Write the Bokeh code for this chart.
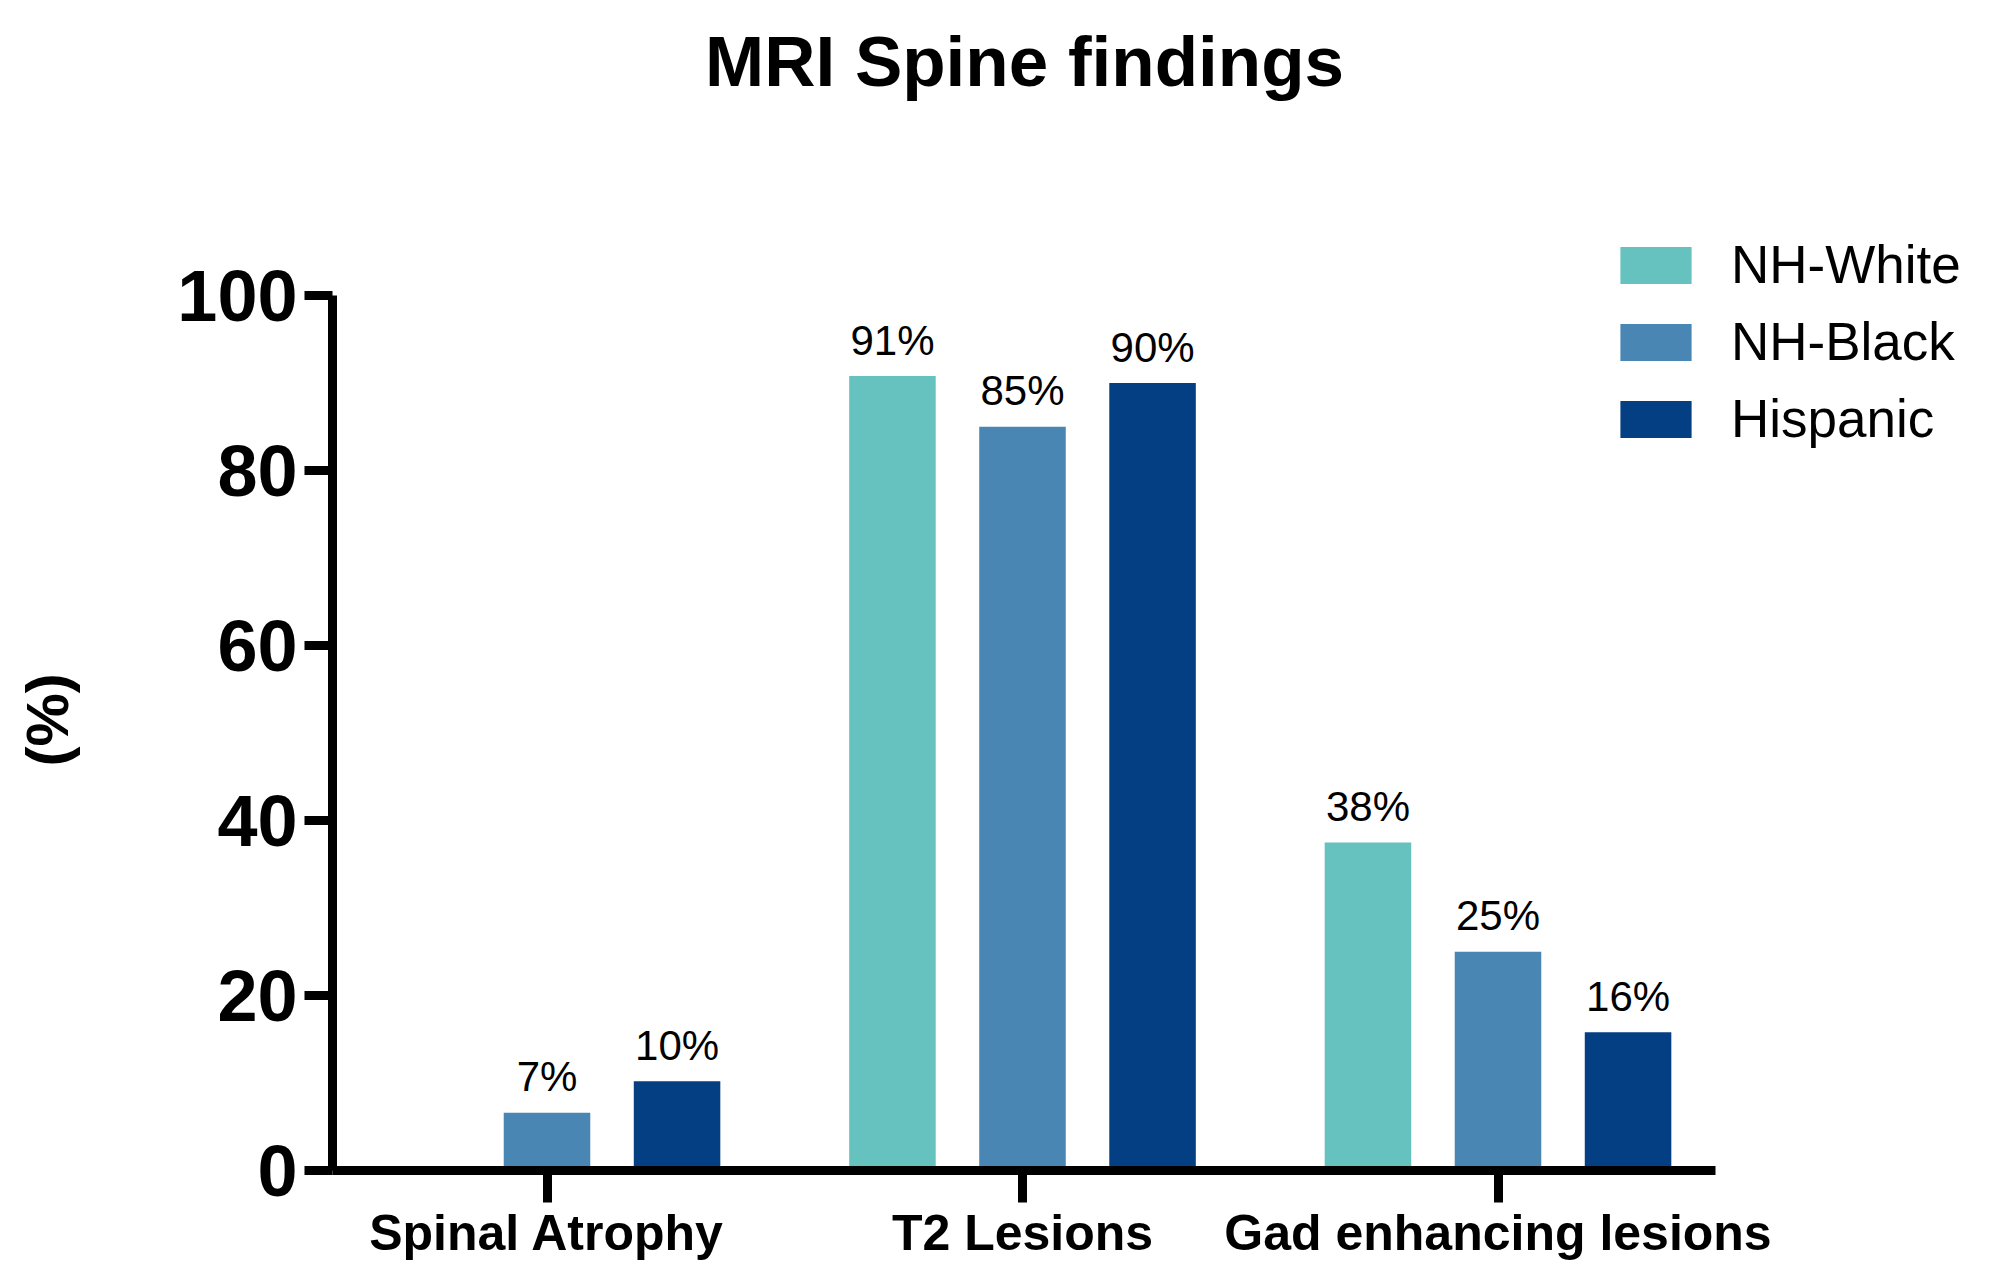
from bokeh.plotting import figure
from bokeh.models import ColumnDataSource, FixedTicker, Range1d, Legend, LegendItem, Label
from bokeh.transform import dodge
from bokeh.core.properties import value
from bokeh.embed import file_html
from bokeh.resources import INLINE

# ---------------- data ----------------
title_text = "MRI Spine findings"
y_label = "(%)"
categories = ["Spinal Atrophy", "T2 Lesions", "Gad enhancing lesions"]
series = ["NH-White", "NH-Black", "Hispanic"]
nh_white = [0.0, 90.8, 37.5]
nh_black = [6.6, 85.0, 25.0]
hispanic = [10.2, 90.0, 15.8]
white_labels = ["", "91%", "38%"]
black_labels = ["7%", "85%", "25%"]
hispanic_labels = ["10%", "90%", "16%"]
y_ticks = [0, 20, 40, 60, 80, 100]
colors = ["#65C2BF", "#4A86B4", "#033F82"]

FONT = "Liberation Sans"
W, H = 1978, 1267

# ---------------- layout (pixels) ----------------
FRAME_L, FRAME_R, FRAME_T, FRAME_B = 332, 1976, 2, 1170
PX_PER_PCT = 8.75          # vertical pixels per percentage point
PX_PER_CAT = 475.5         # horizontal pixels per category
CAT0_X = 546.5             # pixel x of first category centre
AXIS_RIGHT_X = 1714.8      # pixel x where the x axis line ends

x_start = (FRAME_L - CAT0_X) / PX_PER_CAT
x_end = (FRAME_R - CAT0_X) / PX_PER_CAT
x_axis_end = (AXIS_RIGHT_X - CAT0_X) / PX_PER_CAT
y_end = (FRAME_B - FRAME_T) / PX_PER_PCT

src = ColumnDataSource(dict(
    x=list(range(len(categories))),
    white=nh_white, black=nh_black, hisp=hispanic,
    wl=white_labels, bl=black_labels, hl=hispanic_labels,
))

p = figure(width=W, height=H,
           x_range=Range1d(x_start, x_end), y_range=Range1d(0, y_end),
           output_backend="svg", toolbar_location=None,
           min_border_left=FRAME_L, min_border_right=W - FRAME_R,
           min_border_top=FRAME_T, min_border_bottom=H - FRAME_B)

p.outline_line_color = None
p.grid.visible = False
p.background_fill_color = "white"
p.border_fill_color = "white"

OFF = 0.2735
BW = 0.182
cols = ["white", "black", "hisp"]
lcols = ["wl", "bl", "hl"]
offs = [-OFF, 0.0, OFF]
renderers = []
for c, lc, o, col in zip(cols, lcols, offs, colors):
    r = p.vbar(x=dodge("x", o), top=c, width=BW, bottom=0, source=src,
               fill_color=col, line_color=None)
    renderers.append(r)
    p.text(x=dodge("x", o), y=c, text=lc, source=src,
           text_font=value(FONT), text_font_size="42px",
           text_align="center", text_baseline="alphabetic",
           y_offset=-36, text_color="black")

# title
p.add_layout(Label(x=692, y=FRAME_B - 61, x_units="screen", y_units="screen",
                   text=title_text, text_font=FONT, text_font_size="71px",
                   text_font_style="bold", text_align="center",
                   text_baseline="alphabetic", text_color="black"))

# axes
for ax in (p.xaxis[0], p.yaxis[0]):
    ax.axis_line_width = 9
    ax.axis_line_color = "black"
    ax.major_tick_line_width = 9
    ax.major_tick_line_color = "black"
    ax.major_tick_in = 0
    ax.minor_tick_line_color = None

p.yaxis.bounds = (0, 100)
p.yaxis.ticker = FixedTicker(ticks=y_ticks)
p.yaxis.major_tick_out = 28
p.yaxis.major_label_standoff = 7
p.yaxis.major_label_text_font = FONT
p.yaxis.major_label_text_font_size = "72px"
p.yaxis.major_label_text_font_style = "bold"
p.yaxis.major_label_text_color = "black"
# the axis label is centred on the (taller) frame; trailing no-break spaces
# move the visible "(%)" down to the middle of the 0-100 axis
p.yaxis.axis_label = y_label + "\u00a0" * 16
p.yaxis.axis_label_text_font = FONT
p.yaxis.axis_label_text_font_size = "60px"
p.yaxis.axis_label_text_font_style = "bold"
p.yaxis.axis_label_text_color = "black"
p.yaxis.axis_label_standoff = 93

p.xaxis.bounds = (x_start, x_axis_end)
p.xaxis.ticker = FixedTicker(ticks=list(range(len(categories))))
p.xaxis.major_label_overrides = {i: c for i, c in enumerate(categories)}
p.xaxis.major_tick_out = 32
p.xaxis.major_label_standoff = 2
p.xaxis.major_label_text_font = FONT
p.xaxis.major_label_text_font_size = "50px"
p.xaxis.major_label_text_font_style = "bold"
p.xaxis.major_label_text_color = "black"

legend = Legend(items=[LegendItem(label=s, renderers=[r]) for s, r in zip(series, renderers)],
                location=(1279, 721),
                glyph_width=89, glyph_height=46, label_standoff=31,
                label_height=46, spacing=16, padding=0, margin=0,
                border_line_color=None, background_fill_alpha=0,
                label_text_font=FONT, label_text_font_size="53px",
                label_text_color="black")
p.add_layout(legend, "center")

open("out.html", "w").write(file_html(p, INLINE))
